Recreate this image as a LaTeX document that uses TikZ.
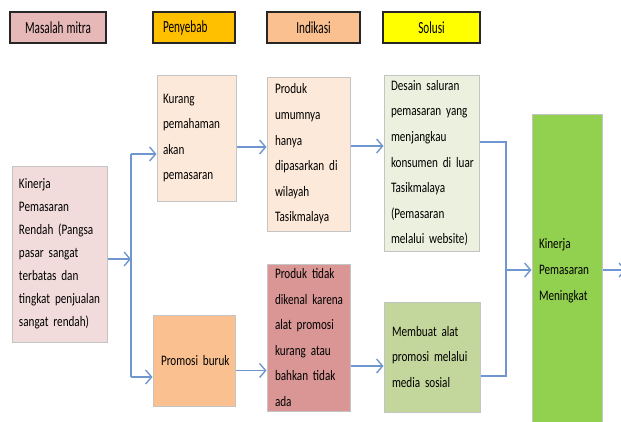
\documentclass[tikz,border=0pt]{standalone}
\usepackage{fontspec}
\setmainfont{Carlito}[FakeStretch=0.77]
\newfontfamily\headfont{Carlito}[FakeStretch=0.66]
\usetikzlibrary{arrows.meta}
\definecolor{head-pink}{HTML}{E6B9B8}
\definecolor{head-gold}{HTML}{FFC000}
\definecolor{head-peach}{HTML}{FAC090}
\definecolor{head-yellow}{HTML}{FFFF00}
\definecolor{fill-rose}{HTML}{F2DCDB}
\definecolor{fill-cream}{HTML}{FDE9D9}
\definecolor{fill-peach}{HTML}{FAC090}
\definecolor{fill-red}{HTML}{D99694}
\definecolor{fill-mint}{HTML}{EBF1DE}
\definecolor{fill-olive}{HTML}{C3D69B}
\definecolor{fill-green}{HTML}{92D050}
\definecolor{box-line}{HTML}{C4C4C4}
\definecolor{flow-blue}{HTML}{7096CF}
\newcommand\boxfont[1]{\fontsize{14.5}{#1}\selectfont}

\begin{document}
\begin{tikzpicture}[x=1pt, y=-1pt,
      every node/.style={font=\boxfont{25.6}},
      head/.style={draw=black!85, line width=2pt, minimum height=31pt,
        inner sep=0pt, font=\headfont\fontsize{17}{20}\selectfont},
      box/.style={draw=box-line, line width=1pt, align=left,
        inner xsep=0pt, inner ysep=2pt, inset=7pt},
      inset/.style={execute at begin node={\leftskip #1\relax}},
      flow/.style={draw=flow-blue, line width=1.4pt,
        -{Straight Barb[length=6pt,width=14pt]}},
      link/.style={draw=flow-blue, line width=1.4pt}]
    \useasboundingbox (0,0) rectangle (621,421);
    \clip (0,0) rectangle (621,421);
    \node[head, fill=head-pink, minimum width=96pt] (hmasalah) at (58,27.5) {Masalah\hspace{3pt}mitra};
    \node[head, fill=head-gold, text width=62pt, align=left, inner xsep=10pt]
          (hpenyebab) at (194,27.5) {Penyebab};
    \node[head, fill=head-peach, minimum width=93pt] (hindikasi) at (313.5,27.5) {Indikasi};
    \node[head, fill=head-yellow, minimum width=97pt] (hsolusi) at (431.5,27.5) {Solusi};

    \node[box, fill=fill-rose, text width=95pt, minimum height=176pt, font=\boxfont{23}]
          (rendah) at (59.5,254) {Kinerja\\ Pemasaran\\ Rendah (Pangsa\\ pasar sangat\\
            terbatas dan\\ tingkat penjualan\\ sangat rendah)};
    \node[box, fill=fill-cream, text width=79pt, minimum height=126pt, inset=6pt]
          (kurang) at (196.5,138) {Kurang\\ pemahaman\\ akan\\ pemasaran};
    \node[box, fill=fill-peach, text width=82pt, minimum height=91pt, inset=8pt]
          (buruk) at (194,360.5) {Promosi buruk};
    \node[box, fill=fill-cream, text width=83pt, minimum height=154pt, inset=8pt]
          (lokal) at (308.5,154) {Produk\\ umumnya\\ hanya\\ dipasarkan di\\ wilayah\\ Tasikmalaya};
    \node[box, fill=fill-red, text width=83pt, minimum height=147pt, inset=8pt]
          (dikenal) at (308.5,337.5) {Produk tidak\\ dikenal karena\\ alat promosi\\
            kurang atau\\ bahkan tidak\\ ada};
    \node[box, fill=fill-mint, text width=95pt, minimum height=176pt]
          (website) at (431.5,163) {Desain saluran\\ pemasaran yang\\ menjangkau\\
            konsumen di luar\\ Tasikmalaya\\ (Pemasaran\\ melalui website)};
    \node[box, fill=fill-olive, text width=96pt, minimum height=110pt, inset=8pt]
          (sosial) at (432,357) {Membuat alat\\ promosi melalui\\ media sosial};
    \node[box, fill=fill-green, text width=70pt, minimum height=314pt, font=\boxfont{26}]
          (hasil) at (567,271) {Kinerja\\ Pemasaran\\ Meningkat};

    \coordinate (split) at (131,259);
    \coordinate (splittop) at (131,154);
    \coordinate (splitbot) at (131,377);
    \coordinate (jointop) at (506,142);
    \coordinate (joinbot) at (506,376);
    \coordinate (joinmid) at (507,270);
    \coordinate (out) at (626,270);

    \draw[flow] ([yshift=-5pt]rendah.east) -- (split);
    \draw[link] (splittop) -- (splitbot);
    \draw[flow] (splittop) -- (splittop -| kurang.west);
    \draw[flow] (splitbot) -- (splitbot -| buruk.west);
    \draw[flow] ([yshift=-9pt]kurang.east) -- ([yshift=-9pt]kurang.east -| lokal.west);
    \draw[flow] ([yshift=-10pt]buruk.east) -- ([yshift=-10pt]buruk.east -| dikenal.west);
    \draw[flow] ([yshift=8pt]lokal.east) -- ([yshift=8pt]lokal.east -| website.west);
    \draw[flow] ([yshift=-28.5pt]dikenal.east) -- ([yshift=-28.5pt]dikenal.east -| sosial.west);
    \draw[link] ([yshift=21pt]website.east) -- (jointop) -- (joinbot)
          -- ([yshift=-19pt]sosial.east);
    \draw[flow] (joinmid) -- (joinmid -| hasil.west);
    \draw[flow] (hasil.east |- out) -- (out);
  \end{tikzpicture}
\end{document}
